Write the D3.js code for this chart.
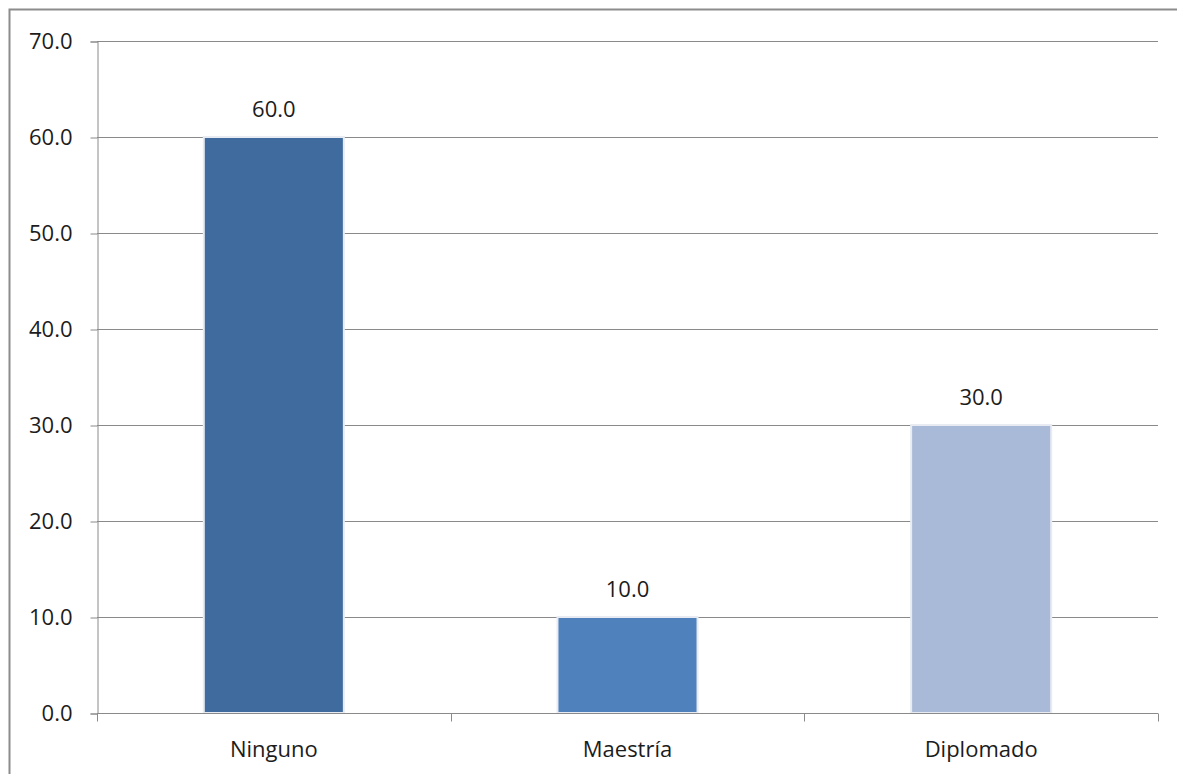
<!DOCTYPE html>
<html>
<head>
<meta charset="utf-8">
<script src="https://cdn.jsdelivr.net/npm/d3@7"></script>
<style>
  html, body { margin: 0; padding: 0; background: #fff; }
  svg { display: block; }
  text { font-family: "Open Sans", "Noto Sans", sans-serif; fill: #1c1c1c; }
</style>
</head>
<body>
<svg id="chart" width="1177" height="774"></svg>
<script>
// Chart data
const categories = ["Ninguno", "Maestría", "Diplomado"];
const values = [60.0, 10.0, 30.0];
const barColors = ["#3F6B9E", "#4F81BD", "#A9BAD8"];
const yTicks = [0, 10, 20, 30, 40, 50, 60, 70];

const svg = d3.select("#chart");
const plot = { left: 97, right: 1158, top: 41, bottom: 713 };
const fontSize = "22px";

// Outer chart frame
svg.append("rect")
  .attr("x", 9.5).attr("y", 9.5)
  .attr("width", 1177).attr("height", 774)
  .attr("fill", "none").attr("stroke", "#8c8c8c").attr("stroke-width", 2);

const x = d3.scaleBand().domain(categories).range([plot.left, plot.right]).padding(0);
const y = d3.scaleLinear().domain([0, 70]).range([plot.bottom, plot.top]);

// Horizontal gridlines
svg.append("g").selectAll("line").data(yTicks.filter(t => t > 0)).join("line")
  .attr("x1", plot.left).attr("x2", plot.right)
  .attr("y1", d => Math.round(y(d)) + 0.5).attr("y2", d => Math.round(y(d)) + 0.5)
  .attr("stroke", "#8a8a8a").attr("stroke-width", 1);

// Y axis
const yAxis = svg.append("g")
  .attr("transform", `translate(${plot.left + 0.5},0.5)`)
  .call(d3.axisLeft(y).tickValues(yTicks).tickFormat(d3.format(".1f")).tickSize(7).tickPadding(18));
yAxis.select(".domain").attr("stroke", "#8a8a8a");
yAxis.selectAll(".tick line").attr("stroke", "#8a8a8a");
yAxis.selectAll(".tick text")
  .style("font-family", "'Open Sans', 'Noto Sans', sans-serif")
  .style("font-size", fontSize).attr("fill", "#1c1c1c");

// Bars with a light outline
const barW = x.bandwidth() * 0.396;
svg.append("g").selectAll("rect").data(values).join("rect")
  .attr("x", (d, i) => x(categories[i]) + x.bandwidth() / 2 - barW / 2)
  .attr("y", d => y(d))
  .attr("width", barW)
  .attr("height", d => y(0) - y(d))
  .attr("fill", (d, i) => barColors[i])
  .attr("stroke", "#e8ecf2").attr("stroke-width", 2);

// X axis (drawn after bars so baseline sits on top)
const xAxis = svg.append("g")
  .attr("transform", `translate(0,${Math.round(y(0)) + 0.5})`);
xAxis.append("line")
  .attr("x1", plot.left).attr("x2", plot.right)
  .attr("stroke", "#8a8a8a");
xAxis.selectAll("line.tk").data(categories.map(c => x(c)).concat([plot.right])).join("line")
  .attr("class", "tk")
  .attr("x1", d => Math.round(d) + 0.5).attr("x2", d => Math.round(d) + 0.5)
  .attr("y1", 0).attr("y2", 8)
  .attr("stroke", "#8a8a8a");
xAxis.selectAll("text").data(categories).join("text")
  .attr("x", d => x(d) + x.bandwidth() / 2)
  .attr("y", 43)
  .attr("text-anchor", "middle")
  .style("font-size", fontSize)
  .text(d => d);

// Value labels
svg.append("g").selectAll("text").data(values).join("text")
  .attr("x", (d, i) => x(categories[i]) + x.bandwidth() / 2)
  .attr("y", d => y(d) - 20)
  .attr("text-anchor", "middle")
  .style("font-size", fontSize)
  .text(d => d3.format(".1f")(d));
</script>
</body>
</html>
